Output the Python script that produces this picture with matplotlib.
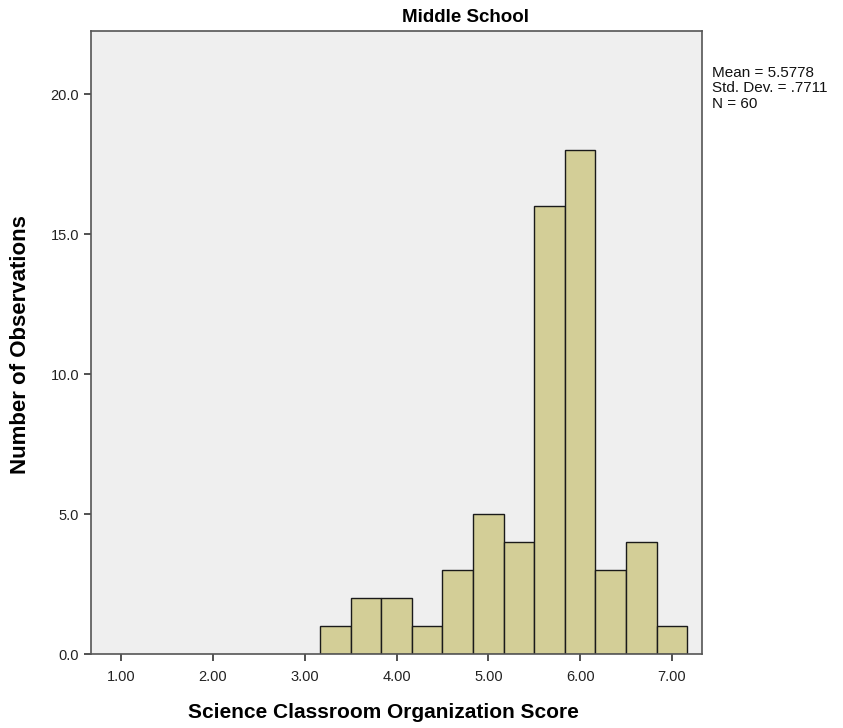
import matplotlib
matplotlib.use("Agg")
import matplotlib.pyplot as plt
import numpy as np

plt.rcParams['font.family'] = ['Liberation Sans', 'DejaVu Sans']

bin_edges = [3.1667, 3.5, 3.8333, 4.1667, 4.5, 4.8333, 5.1667, 5.5, 5.8333, 6.1667, 6.5, 6.8333, 7.1667]
counts = [1, 2, 2, 1, 3, 5, 4, 16, 18, 3, 4, 1]
xticks = [1, 2, 3, 4, 5, 6, 7]
xticklabels = ["1.00", "2.00", "3.00", "4.00", "5.00", "6.00", "7.00"]
yticks = [0, 5, 10, 15, 20]
yticklabels = ["0.0", "5.0", "10.0", "15.0", "20.0"]
title = "Middle School"
xlabel = "Science Classroom Organization Score"
ylabel = "Number of Observations"
stats = "Mean = 5.5778\nStd. Dev. = .7711\nN = 60"

W, H = 843, 728
fig = plt.figure(figsize=(W / 100, H / 100), dpi=100)
ax = fig.add_axes([91 / W, 1 - 654.3 / H, (702 - 91) / W, (654.3 - 31) / H])
ax.set_facecolor('#efefef')

lefts = np.array(bin_edges[:-1])
widths = np.diff(bin_edges)
ax.bar(lefts, counts, width=widths, align='edge', color='#d3ce97', edgecolor='#1a1a1a', linewidth=1.0, zorder=2)

ax.set_xlim(0.673, 7.327)
ax.set_ylim(0, 22.26)
ax.set_xticks(xticks)
ax.set_xticklabels(xticklabels)
ax.set_yticks(yticks)
ax.set_yticklabels(yticklabels)
ax.tick_params(direction='out', length=5, width=1.2, color='#333333', labelsize=10.5, labelcolor='#222222')
ax.tick_params(axis='x', pad=6)
for s in ax.spines.values():
    s.set_color('#555555')
    s.set_linewidth(1.2)

fig.text(383 / W, 1 - 712 / H, xlabel, fontsize=15, fontweight='bold', ha='center', va='center')
fig.text(21 / W, 1 - 344.5 / H, ylabel, fontsize=16, fontweight='bold', ha='center', va='center', rotation=90)
fig.text(465 / W, 1 - 17.5 / H, title, fontsize=13.5, fontweight='bold', ha='center', va='center')

fig.text(712 / W, 1 - 66 / H, stats, fontsize=11, va='top', ha='left', linespacing=1.12, color='#111111')

fig.savefig("out.png", dpi=100)
